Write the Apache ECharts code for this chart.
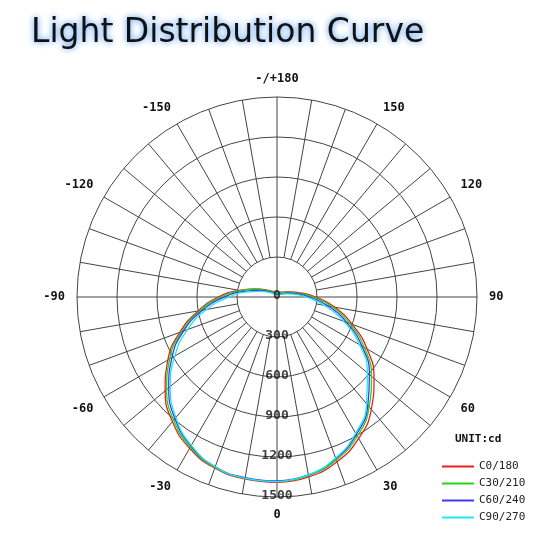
<!DOCTYPE html>
<html><head><meta charset="utf-8">
<script src="https://cdn.jsdelivr.net/npm/echarts@6/dist/echarts.min.js"></script>
<style>html,body{margin:0;padding:0;background:#fff}#c{width:555px;height:549px}</style>
</head><body><div id="c"></div>
<script>
// angles (deg): 0 = nadir, counter-clockwise toward right (+), 180 top, 190..350 = -170..-10
const angles = [0,10,20,30,40,50,60,70,80,90,100,110,120,130,140,150,160,170,180,190,200,210,220,230,240,250,260,270,280,290,300,310,320,330,340,350,360];
const c0_180  = [1390,1370,1315,1225,1100,950,780,600,440,290,180,110,75,58,48,44,40,38,38,40,44,48,58,75,110,180,290,440,600,775,945,1095,1220,1310,1365,1385,1390];
const c30_210 = [1385,1360,1300,1205,1075,925,755,580,420,275,170,100,68,52,45,41,38,36,36,38,41,45,52,68,100,170,275,420,585,760,930,1080,1205,1300,1360,1380,1385];
const c60_240 = [1380,1355,1290,1190,1060,905,735,555,390,245,145,85,52,38,30,26,24,22,22,24,26,30,38,52,85,145,245,395,565,745,910,1060,1190,1290,1355,1375,1380];
const c90_270 = [1385,1355,1285,1180,1045,885,715,530,360,220,125,70,42,30,25,22,20,18,18,20,22,25,30,42,70,125,220,360,535,715,885,1045,1180,1285,1355,1380,1385];
const seriesNames = ['C0/180','C30/210','C60/240','C90/270'];
const seriesColors = ['#e8201c','#22d41e','#3a3ae6','#22e6f0'];
const radiusTicks = [0,300,600,900,1200,1500];
const spokeAngles = [0,10,20,30,40,50,60,70,80,90,100,110,120,130,140,150,160,170,180,190,200,210,220,230,240,250,260,270,280,290,300,310,320,330,340,350];

const chart = echarts.init(document.getElementById('c'));
const mono = 'DejaVu Sans Mono';
const series = [];
spokeAngles.forEach(a => {
  const full = a % 90 === 0;
  series.push({type:'line', coordinateSystem:'polar', silent:true, symbol:'none', z:1,
    lineStyle:{color:'#444', width:1},
    data:[[full?0:300, a],[1500, a]]});
});
[c0_180,c30_210,c60_240,c90_270].forEach((vals,i) => {
  series.push({type:'line', name:seriesNames[i], coordinateSystem:'polar', symbol:'none', smooth:true, z:5,
    lineStyle:{color:seriesColors[i], width:1.3}, itemStyle:{color:seriesColors[i]},
    data: vals.map((v,k)=>[v, angles[k]])});
});
series.push({type:'scatter', coordinateSystem:'polar', symbolSize:0, z:6, silent:true,
  data: radiusTicks.map(v=>[v,0]),
  label:{show:true, position:'inside', formatter:p=>p.value[0], color:'#111', fontFamily:mono, fontWeight:'bold', fontSize:13, offset:[0,-1]}});

chart.setOption({
  animation:false,
  title:{text:'Light Distribution Curve', left:26, top:12,
    textStyle:{fontFamily:'DejaVu Sans', fontSize:33, fontWeight:'normal', color:'#111',
      textShadowColor:'#3d8cf0', textShadowBlur:6}},
  polar:{center:[277,297], radius:200},
  angleAxis:{type:'value', min:0, max:360, interval:30, startAngle:270, clockwise:false,
    axisLine:{show:false}, axisTick:{show:false}, splitLine:{show:false},
    axisLabel:{margin:12, color:'#111', fontFamily:mono, fontWeight:'bold', fontSize:12,
      formatter:v=> v===180?'-/+180': v===360?'': (v>180? String(v-360): String(v))}},
  radiusAxis:{type:'value', min:0, max:1500, interval:300,
    axisLine:{show:false}, axisTick:{show:false}, axisLabel:{show:false},
    splitLine:{show:true, lineStyle:{color:'#444', width:1}}},
  legend:{data:seriesNames, orient:'vertical', left:437, top:456, itemGap:6, itemWidth:32, itemHeight:2,
    icon:'rect', textStyle:{fontFamily:mono, fontSize:11, color:'#222'}},
  graphic:[{type:'text', left:455, top:434, style:{text:'UNIT:cd', font:'bold 11px "DejaVu Sans Mono"', fill:'#111'}}],
  series
});
</script></body></html>
